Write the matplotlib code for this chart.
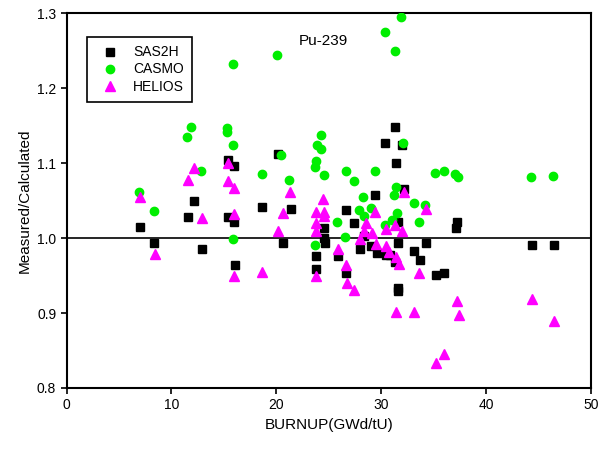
"""Pu-239 measured/calculated ratio versus burnup for three codes."""

import matplotlib

matplotlib.use("Agg")
import matplotlib.pyplot as plt

# SAS2H
sas_x = [7.0, 8.3, 11.6, 12.1, 12.9, 15.4, 15.4, 16.0, 16.0, 16.1, 18.6, 20.2,
         20.6, 21.4, 23.8, 23.8, 24.5, 24.5, 24.6, 25.9, 26.6, 26.6, 27.4, 28.0,
         28.4, 29.0, 29.4, 29.6, 30.4, 30.5, 30.8, 31.3, 31.4, 32.0, 32.2, 31.6,
         31.6, 31.3, 31.6, 31.6, 33.1, 33.7, 34.3, 35.2, 36.0, 37.1, 37.2, 44.4,
         46.5]
sas_y = [1.015, 0.994, 1.028, 1.05, 0.985, 1.105, 1.028, 1.096, 1.022, 0.964,
         1.041, 1.113, 0.994, 1.039, 0.976, 0.959, 1.013, 1.0, 0.994, 0.976,
         1.038, 0.953, 1.02, 0.986, 1.003, 0.989, 1.057, 0.98, 1.127, 0.978,
         0.977, 1.148, 1.1, 1.124, 1.066, 1.022, 0.994, 0.968, 0.933, 0.929,
         0.983, 0.971, 0.994, 0.951, 0.953, 1.013, 1.022, 0.991, 0.991]

# CASMO
casmo_x = [6.9, 8.3, 11.5, 11.9, 12.8, 15.3, 15.3, 15.9, 15.9, 15.9, 18.6, 20.1,
           20.45, 21.25, 23.7, 23.8, 23.9, 24.3, 24.3, 24.5, 23.7, 25.8, 26.5,
           26.6, 27.4, 27.9, 28.3, 29.0, 28.4, 29.4, 30.4, 30.4, 31.0, 31.3,
           31.9, 31.2, 31.4, 31.5, 32.1, 33.1, 33.6, 34.2, 35.1, 36.0, 37.05,
           37.3, 44.3, 46.4]
casmo_y = [1.061, 1.036, 1.135, 1.148, 1.090, 1.147, 1.142, 1.233, 1.124, 0.999,
           1.086, 1.244, 1.111, 1.078, 1.095, 1.103, 1.124, 1.138, 1.119, 1.084,
           0.991, 1.022, 1.001, 1.089, 1.076, 1.038, 1.055, 1.040, 1.029, 1.089,
           1.275, 1.018, 1.024, 1.250, 1.295, 1.058, 1.068, 1.034, 1.127, 1.047,
           1.022, 1.044, 1.087, 1.090, 1.085, 1.081, 1.081, 1.083]

# HELIOS
helios_x = [7.0, 8.4, 11.6, 12.1, 12.95, 15.4, 15.4, 16.0, 15.95, 16.0, 18.6,
            20.2, 20.6, 21.3, 23.8, 23.8, 23.8, 23.8, 24.5, 24.4, 24.5, 25.9,
            26.6, 26.7, 27.4, 28.0, 28.5, 28.4, 29.1, 29.5, 29.4, 30.5, 30.5,
            30.7, 31.3, 31.4, 31.65, 31.4, 32.0, 32.2, 33.1, 33.6, 34.3, 35.2,
            36.0, 37.2, 37.4, 44.4, 46.5]
helios_y = [1.055, 0.979, 1.077, 1.093, 1.027, 1.100, 1.076, 1.067, 1.032, 0.950,
            0.955, 1.010, 1.033, 1.062, 0.950, 1.009, 1.020, 1.035, 1.035, 1.052,
            1.030, 0.985, 0.964, 0.940, 0.931, 0.999, 1.020, 1.010, 1.007, 0.992,
            1.035, 1.012, 0.989, 0.982, 1.018, 0.975, 0.966, 0.901, 1.010, 1.061,
            0.901, 0.953, 1.039, 0.833, 0.845, 0.916, 0.897, 0.919, 0.890]

plt.rcParams["font.family"] = ["Liberation Sans", "DejaVu Sans"]

fig = plt.figure(figsize=(6, 4.49), dpi=100)
ax = fig.add_axes([0.111, 0.136, 0.874, 0.834])

ax.axhline(1.0, color="black", linewidth=1.2, zorder=1)
ax.plot(sas_x, sas_y, "s", color="black", markersize=6.3, label="SAS2H", zorder=2)
ax.plot(casmo_x, casmo_y, "o", color="#00ee00", markersize=6, label="CASMO",
        zorder=3)
ax.plot(helios_x, helios_y, "^", color="#ff00ff", markersize=7, label="HELIOS",
        zorder=4)

ax.set_xlim(0, 50)
ax.set_ylim(0.8, 1.3)
ax.set_xticks([0, 10, 20, 30, 40, 50])
ax.set_yticks([0.8, 0.9, 1.0, 1.1, 1.2, 1.3])
ax.tick_params(direction="out", length=4, width=1.2, labelsize=10)
for side in ax.spines.values():
    side.set_linewidth(1.5)

ax.set_xlabel("BURNUP(GWd/tU)", fontsize=11)
ax.set_ylabel("Measured/Calculated", fontsize=11)
ax.text(24.5, 1.263, "Pu-239", fontsize=11, ha="center", va="center")

leg = ax.legend(loc="upper left", bbox_to_anchor=(0.039, 0.937), fontsize=10,
                fancybox=False, edgecolor="black", framealpha=1,
                borderaxespad=0, handlelength=2.1, handletextpad=0.6,
                borderpad=0.6, labelspacing=0.22)
leg.get_frame().set_linewidth(1.2)

fig.savefig("out.png", dpi=100)
